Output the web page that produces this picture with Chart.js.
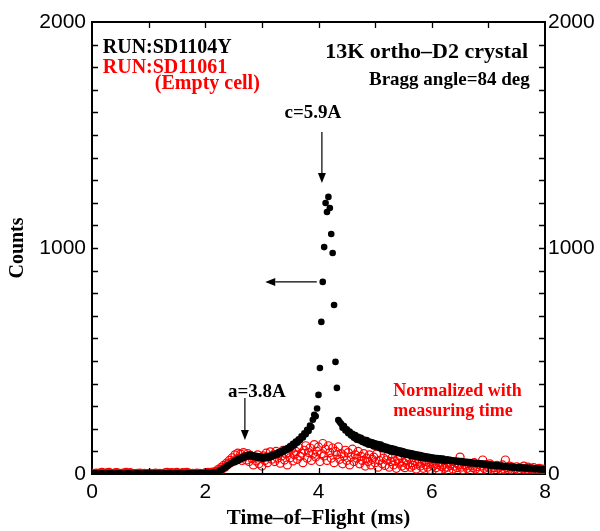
<!DOCTYPE html>
<html>
<head>
<meta charset="utf-8">
<script src="https://cdn.jsdelivr.net/npm/chart.js@4/dist/chart.umd.min.js"></script>
<style>
html,body{margin:0;padding:0;background:#fff;}
#wrap{width:600px;height:531px;position:relative;}
</style>
</head>
<body>
<div id="wrap"><canvas id="c"></canvas></div>
<script>
// Time-of-flight bin width (ms); bins start at 0
const TOF_STEP = 0.025;

// RUN:SD1104Y (13K ortho-D2 crystal), counts per bin
const blackCounts = [
2,1,3,2,0,1,2,3,1,2, 0,2,1,3,2,1,0,2,3,1, 2,1,0,2,1,3,2,2,1,0, 2,1,3,1,2,0,1,2,3,2,
1,2,0,1,3,2,1,2,2,0, 1,3,2,1,2,3,1,0,2,2, 1,3,2,1,2,0,1,2,3,2, 1,2,3,2,1,3,2,4,3,2,
4,3,5,4,3,5,6,7,8,10, 13,16,20,24,28,33,37,42,46,50, 55,52,63,58,68,64,74,70,80,76,
85,78,86,77,83,74,80,71,78,70, 76,68,77,70,79,72,81,76,86,82, 91,86,97,92,103,98,109,104,115,111,
124,118,134,128,144,138,154,150,167,162, 180,176,196,190,214,208,240,262,255,290,
350,469,673,850,1004,1199,1159,1226,1177,1062, 978,748,496,381,239,230,222,205,212,193,
198,180,188,170,178,160,172,152,165,148, 160,142,152,136,150,130,144,128,140,122,
136,120,132,115,130,110,124,108,120,104, 116,100,114,97,110,95,106,92,104,88,
100,86,96,84,94,80,92,78,88,76, 86,73,84,71,81,70,78,68,76,66,
74,64,72,62,71,61,69,60,68,58, 60,65,59,63,57,61,56,60,54,58,
53,57,51,55,50,54,48,53,47,51, 46,50,44,48,43,47,42,46,40,44,
39,43,37,41,36,40,35,39,34,37, 32,36,31,35,30,34,29,33,28,31,
27,31,26,30,25,29,24,28,23,27, 22,26,21,25,21,24,20,23,19,22, 20
];

// RUN:SD11061 (empty cell, normalized with measuring time), counts per bin
const redCounts = [
3,1,2,4,2,0,5,7,4,2, 3,6,7,4,1,2,4,6,5,2, 0,3,1,5,7,4,2,6,3,1, 2,0,3,1,4,2,1,3,0,2,
1,3,2,0,2,4,1,2,3,1, 2,0,6,7,3,1,6,4,2,5, 7,4,1,2,6,4,3,7,5,2, 1,3,0,2,4,1,3,2,0,2,
5,4,7,5,3,8,6,10,12,20, 15,28,22,38,30,48,42,60,50,72, 58,85,66,92,70,88,60,95,78,62,
90,55,82,68,40,75,58,85,45,70, 35,80,60,92,50,75,98,65,85,55, 100,70,90,48,80,105,62,88,40,95,
72,110,58,85,100,65,118,78,92,50, 105,125,70,95,115,60,88,130,75,100,
120,55,90,135,80,110,60,125,95,70, 115,50,100,85,120,65,90,45,80,105,
60,95,40,75,110,55,85,70,100,45, 78,60,90,35,70,55,85,40,65,75,
50,88,30,60,120,45,70,38,62,80, 30,55,72,40,58,25,65,48,75,35,
52,28,60,42,70,30,50,38,58,22, 45,62,35,48,25,55,40,30,52,20,
45,35,58,28,42,18,50,32,40,25, 48,30,15,38,45,22,35,50,28,40,
75,30,20,42,35,25,45,15,38,28, 50,22,32,42,18,35,62,25,40,15,
30,45,20,35,28,12,38,25,30,18, 40,22,62,28,15,35,20,30,10,25,
32,18,28,12,25,35,15,22,30,10, 25,18,28,15,22,8,25,18,12,22, 15
];

// Axis tick values
const xTickLabels = [0, 2, 4, 6, 8];
const xMinorTicks = [1, 2, 3, 4, 5, 6, 7];
const yTickLabels = [0, 1000, 2000];
const yMinorTicks = [100,200,300,400,500,600,700,800,900,1000,1100,1200,1300,1400,1500,1600,1700,1800,1900];

const tof = blackCounts.map((_, i) => +(i * TOF_STEP).toFixed(3));
const blackPts = blackCounts.map((c, i) => ({x: tof[i], y: c}));
const redPts = redCounts.map((c, i) => ({x: tof[i], y: c}));

const SERIF = '"Liberation Serif", "Times New Roman", serif';
const SANS = '"Liberation Sans", Arial, sans-serif';

// annotations in data coordinates
const texts = [
  {t:'RUN:SD1104Y', x:0.19, y:1885, color:'#000', size:20, align:'left'},
  {t:'RUN:SD11061', x:0.19, y:1796, color:'#ff0000', size:20, align:'left'},
  {t:'(Empty cell)', x:1.11, y:1726, color:'#ff0000', size:20, align:'left'},
  {t:'13K ortho\u2013D2 crystal', x:7.70, y:1867, color:'#000', size:22, align:'right'},
  {t:'Bragg angle=84 deg', x:7.73, y:1743, color:'#000', size:19, align:'right'},
  {t:'c=5.9A', x:3.90, y:1597, color:'#000', size:19, align:'center'},
  {t:'a=3.8A', x:2.91, y:363, color:'#000', size:19, align:'center'},
  {t:'Normalized with', x:5.32, y:367, color:'#ff0000', size:18, align:'left'},
  {t:'measuring time', x:5.32, y:279, color:'#ff0000', size:18, align:'left'}
];
const arrows = [
  {x1:4.06, y1:1513, x2:4.06, y2:1288},
  {x1:3.97, y1:850, x2:3.06, y2:850},
  {x1:2.70, y1:336, x2:2.70, y2:150}
];

const decor = {
  id: 'decor',
  afterDraw(chart) {
    const {ctx, chartArea: a, scales} = chart;
    const x = scales.x, y = scales.y;
    ctx.save();
    ctx.strokeStyle = '#000';
    ctx.lineWidth = 1.3;
    ctx.beginPath();
    xMinorTicks.forEach(v => {
      const px = Math.round(x.getPixelForValue(v)) + 0.5;
      ctx.moveTo(px, a.bottom); ctx.lineTo(px, a.bottom - 6);
      ctx.moveTo(px, a.top); ctx.lineTo(px, a.top + 6);
    });
    yMinorTicks.forEach(v => {
      const py = Math.round(y.getPixelForValue(v)) + 0.5;
      ctx.moveTo(a.left, py); ctx.lineTo(a.left + 6, py);
      ctx.moveTo(a.right, py); ctx.lineTo(a.right - 6, py);
    });
    ctx.stroke();

    texts.forEach(o => {
      ctx.font = 'bold ' + o.size + 'px ' + SERIF;
      ctx.fillStyle = o.color;
      ctx.textAlign = o.align;
      ctx.textBaseline = 'middle';
      ctx.fillText(o.t, x.getPixelForValue(o.x), y.getPixelForValue(o.y));
    });

    ctx.fillStyle = '#000';
    ctx.lineWidth = 1.2;
    arrows.forEach(ar => {
      const x1 = x.getPixelForValue(ar.x1), y1 = y.getPixelForValue(ar.y1);
      const x2 = x.getPixelForValue(ar.x2), y2 = y.getPixelForValue(ar.y2);
      const ang = Math.atan2(y2 - y1, x2 - x1);
      const L = 10, W = 4;
      const bx = x2 - L * Math.cos(ang), by = y2 - L * Math.sin(ang);
      ctx.beginPath();
      ctx.moveTo(x1, y1); ctx.lineTo(bx, by);
      ctx.stroke();
      ctx.beginPath();
      ctx.moveTo(x2, y2);
      ctx.lineTo(bx + W * Math.sin(ang), by - W * Math.cos(ang));
      ctx.lineTo(bx - W * Math.sin(ang), by + W * Math.cos(ang));
      ctx.closePath();
      ctx.fill();
    });
    ctx.restore();
  }
};

const setTicks = arr => scale => { scale.ticks = arr.map(v => ({value: v})); };
const plain = v => String(v);

new Chart(document.getElementById('c'), {
  type: 'scatter',
  data: {
    datasets: [
      {
        label: 'RUN:SD1104Y',
        data: blackPts,
        pointRadius: 3.3,
        pointBackgroundColor: '#000',
        pointBorderColor: '#000',
        pointBorderWidth: 0,
        showLine: false
      },
      {
        label: 'RUN:SD11061',
        data: redPts,
        pointRadius: 4,
        pointBackgroundColor: 'rgba(0,0,0,0)',
        pointBorderColor: '#ff0000',
        pointBorderWidth: 1.2,
        showLine: false
      }
    ]
  },
  options: {
    responsive: true,
    maintainAspectRatio: false,
    animation: false,
    layout: {padding: 0},
    plugins: {legend: {display: false}, tooltip: {enabled: false}},
    scales: {
      x: {
        type: 'linear', position: 'bottom', min: 0, max: 8,
        afterBuildTicks: setTicks(xTickLabels),
        afterFit: s => { s.height = 57; },
        grid: {display: false, drawTicks: false},
        border: {display: true, color: '#000', width: 2},
        ticks: {color: '#000', font: {family: SANS, size: 21}, padding: 6, maxRotation: 0, autoSkip: false, callback: plain},
        title: {display: true, text: 'Time\u2013of\u2013Flight (ms)', color: '#000',
                font: {family: SERIF, size: 21, weight: 'bold', lineHeight: 1}, padding: {top: 0, bottom: 2}}
      },
      x2: {
        type: 'linear', position: 'top', min: 0, max: 8,
        afterFit: s => { s.height = 22; },
        grid: {display: false, drawTicks: false},
        border: {display: true, color: '#000', width: 2},
        ticks: {display: false}
      },
      y: {
        type: 'linear', position: 'left', min: 0, max: 2000,
        afterBuildTicks: setTicks(yTickLabels),
        afterFit: s => { s.width = 92; },
        grid: {display: false, drawTicks: false},
        border: {display: true, color: '#000', width: 2},
        ticks: {color: '#000', font: {family: SANS, size: 21}, padding: 6, callback: plain},
        title: {display: true, text: 'Counts', color: '#000',
                font: {family: SERIF, size: 20, weight: 'bold', lineHeight: 1}, padding: {top: 8, bottom: 0}}
      },
      y2: {
        type: 'linear', position: 'right', min: 0, max: 2000,
        afterBuildTicks: setTicks(yTickLabels),
        afterFit: s => { s.width = 55; },
        grid: {display: false, drawTicks: false},
        border: {display: true, color: '#000', width: 2},
        ticks: {color: '#000', font: {family: SANS, size: 21}, padding: 3, callback: plain}
      }
    }
  },
  plugins: [decor]
});
</script>
</body>
</html>
